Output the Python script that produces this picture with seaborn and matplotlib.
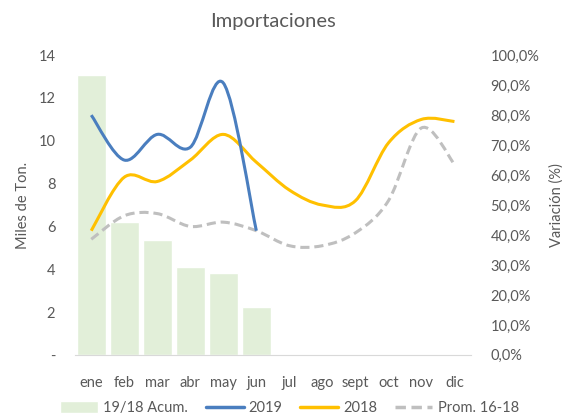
import matplotlib
matplotlib.use("Agg")
import matplotlib.pyplot as plt
import seaborn as sns
import pandas as pd
from matplotlib.path import Path
from matplotlib.patches import PathPatch, Patch
from matplotlib.lines import Line2D
from matplotlib.ticker import FuncFormatter

months = ["ene", "feb", "mar", "abr", "may", "jun", "jul", "ago", "sept", "oct", "nov", "dic"]
var_acum = [93.5, 44.4, 38.3, 29.2, 27.4, 16.1]          # 19/18 Acum. (%)
imp_2019 = [11.2, 9.1, 10.3, 9.7, 12.7, 5.8]              # Miles de Ton.
imp_2018 = [5.8, 8.3, 8.1, 9.1, 10.3, 9.0, 7.7, 7.0, 7.2, 9.9, 11.0, 10.9]
prom_16_18 = [5.4, 6.5, 6.6, 6.0, 6.2, 5.8, 5.1, 5.1, 5.7, 7.2, 10.6, 8.9]

GREY = "#595959"
C_BAR = "#E2EFD9"
C_2019 = "#4A7EBF"
C_2018 = "#FFC000"
C_PROM = "#BFBFBF"


def smooth_path(ys):
    # excel-like smoothed line: bezier through each point
    pts = list(enumerate(ys))
    verts = [pts[0]]
    codes = [Path.MOVETO]
    n = len(pts)
    for i in range(n - 1):
        p0 = pts[max(i - 1, 0)]
        p1 = pts[i]
        p2 = pts[i + 1]
        p3 = pts[min(i + 2, n - 1)]
        c1 = (p1[0] + (p2[0] - p0[0]) / 6, p1[1] + (p2[1] - p0[1]) / 6)
        c2 = (p2[0] - (p3[0] - p1[0]) / 6, p2[1] - (p3[1] - p1[1]) / 6)
        verts += [c1, c2, p2]
        codes += [Path.CURVE4] * 3
    return Path(verts, codes)


def main():
    sns.set_style("white")
    plt.rcParams["font.family"] = ["Lato", "DejaVu Sans"]

    fig = plt.figure(figsize=(5.62, 4.18), dpi=100)
    ax = fig.add_axes([0.133, 0.151, 0.705, 0.717])
    ax2 = ax.twinx()

    bars = pd.DataFrame({"mes": months[:len(var_acum)], "var": var_acum})
    sns.barplot(data=bars, x="mes", y="var", order=months, color=C_BAR,
                saturation=1, width=0.88, ax=ax2)

    ax.set_zorder(ax2.get_zorder() + 1)
    ax.patch.set_visible(False)

    for ys, col, ls in [(prom_16_18, C_PROM, (0, (3, 1.6))),
                        (imp_2018, C_2018, "-"),
                        (imp_2019, C_2019, "-")]:
        ax.add_patch(PathPatch(smooth_path(ys), fill=False, edgecolor=col,
                               lw=2.2, linestyle=ls, capstyle="butt"))

    ax.set_xlim(-0.5, 11.5)
    ax2.set_xlim(-0.5, 11.5)
    ax.set_ylim(0, 14)
    ax2.set_ylim(0, 100)
    ax.set_yticks(range(0, 15, 2))
    ax.yaxis.set_major_formatter(FuncFormatter(lambda v, p: "-" if v == 0 else f"{v:.0f}"))
    ax2.set_yticks(range(0, 101, 10))
    ax2.yaxis.set_major_formatter(FuncFormatter(lambda v, p: f"{v:.1f}%".replace(".", ",")))
    ax.set_xticks(range(len(months)))
    ax.set_xticklabels(months)
    ax2.set_xlabel("")

    for a in (ax, ax2):
        for s in a.spines.values():
            s.set_visible(False)
        a.tick_params(length=0, labelsize=10.5, colors=GREY)
    ax.spines["bottom"].set_visible(True)
    ax.spines["bottom"].set_color("#D9D9D9")
    ax.tick_params(axis="x", pad=15)
    ax.tick_params(axis="y", pad=14)
    ax2.tick_params(axis="y", pad=14)

    ax.set_ylabel("Miles de Ton.", color=GREY, fontsize=10.5, labelpad=6)
    ax2.set_ylabel("Variación (%)", color=GREY, fontsize=10.5, labelpad=7)
    ax.set_title("Importaciones", color=GREY, fontsize=14.5, pad=20)

    handles = [Patch(facecolor=C_BAR, label="19/18 Acum."),
               Line2D([], [], color=C_2019, lw=2.5, label="2019"),
               Line2D([], [], color=C_2018, lw=2.5, label="2018"),
               Line2D([], [], color=C_PROM, lw=2.5, ls=(0, (3, 1.6)), label="Prom. 16-18")]
    leg = fig.legend(handles=handles, loc="lower center", ncol=4, frameon=False,
                     bbox_to_anchor=(0.515, -0.025), fontsize=10.5, handlelength=2.6,
                     handleheight=0.9, columnspacing=1.2, handletextpad=0.35)
    for t in leg.get_texts():
        t.set_color(GREY)

    fig.savefig("out.png", dpi=100)


if __name__ == "__main__":
    main()
